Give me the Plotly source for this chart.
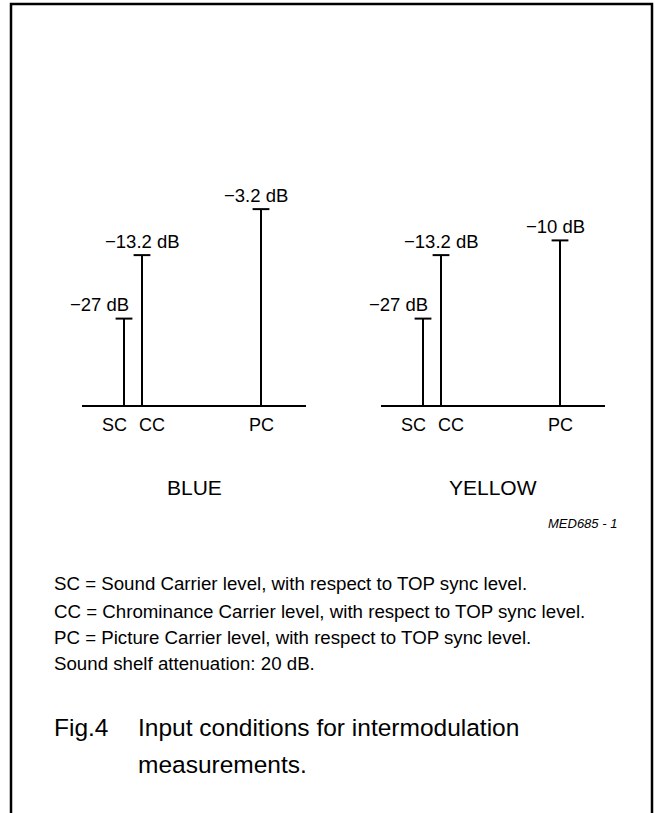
import plotly.graph_objects as go

# ---------------- data ----------------
carriers = ["SC", "CC", "PC"]
blue_db = [-27, -13.2, -3.2]
yellow_db = [-27, -13.2, -10]
group_names = ["BLUE", "YELLOW"]
footnotes = [
    "SC = Sound Carrier level, with respect to TOP sync level.",
    "CC = Chrominance Carrier level, with respect to TOP sync level.",
    "PC = Picture Carrier level, with respect to TOP sync level.",
    "Sound shelf attenuation: 20 dB.",
]
fig_label = "Fig.4"
caption_lines = ["Input conditions for intermodulation", "measurements."]
drawing_code = "MED685 - 1"

# ---------------- layout constants ----------------
W, H = 655, 813
FONT = "Arial, Liberation Sans, Helvetica, sans-serif"
group_origin = [82, 381]          # left end of each baseline (px)
baseline_len = 224
carrier_off = [42, 60, 179]       # stem offsets from baseline start
name_off = [32, 70, 179]          # carrier-name offsets
floor_db = -46.0                  # level of the baseline
px_per_db = 4.6
baseline_px = 406

y_top = floor_db + baseline_px / px_per_db
y_bot = floor_db - (H - baseline_px) / px_per_db

fig = go.Figure()
annotations = []
black = "#000000"

for gi, (gname, vals) in enumerate(zip(group_names, [blue_db, yellow_db])):
    o = group_origin[gi]
    # baseline
    fig.add_trace(go.Scatter(x=[o, o + baseline_len], y=[floor_db, floor_db],
                             mode="lines", line=dict(color=black, width=2),
                             hoverinfo="skip", showlegend=False))
    xs, ys = [], []
    for ci, v in enumerate(vals):
        x = o + carrier_off[ci]
        xs += [x, x, None]
        ys += [floor_db, v, None]
    fig.add_trace(go.Scatter(x=xs, y=ys, mode="lines",
                             line=dict(color=black, width=2),
                             hoverinfo="skip", showlegend=False))
    fig.add_trace(go.Scatter(x=[o + c for c in carrier_off], y=vals, mode="markers",
                             marker=dict(symbol="line-ew", size=12,
                                         line=dict(color=black, width=2)),
                             hoverinfo="skip", showlegend=False))
    for ci, v in enumerate(vals):
        txt = ("\u2212" if v < 0 else "") + f"{abs(v):g} dB"
        if ci == 0:
            xa, xs_ = "right", 7
        elif ci == 1:
            xa, xs_ = "center", 0
        else:
            xa, xs_ = "center", -5
        annotations.append(dict(x=o + carrier_off[ci], y=v, xref="x", yref="y",
                                text=txt, showarrow=False, xanchor=xa, xshift=xs_,
                                yanchor="middle", yshift=14,
                                font=dict(family=FONT, size=18.5, color=black)))
        annotations.append(dict(x=o + name_off[ci], y=floor_db, xref="x", yref="y",
                                text=carriers[ci], showarrow=False, xanchor="center",
                                yanchor="middle", yshift=-19,
                                font=dict(family=FONT, size=18, color=black)))
    annotations.append(dict(x=o + baseline_len / 2, y=487, xref="x", yref="y2",
                            text=gname, showarrow=False, xanchor="center",
                            yanchor="middle",
                            font=dict(family=FONT, size=21, color=black)))

annotations.append(dict(x=619, y=523, xref="x", yref="y2", text=f"<i>{drawing_code}</i>",
                        showarrow=False, xanchor="right", yanchor="middle",
                        font=dict(family=FONT, size=13, color=black)))

for i, line in enumerate(footnotes):
    annotations.append(dict(x=52, y=[583, 611, 637, 663][i], xref="x", yref="y2",
                            text=line, showarrow=False, xanchor="left", yanchor="middle",
                            font=dict(family=FONT, size=18.7, color=black)))

annotations.append(dict(x=52, y=727, xref="x", yref="y2", text=fig_label,
                        showarrow=False, xanchor="left", yanchor="middle",
                        font=dict(family=FONT, size=24.5, color=black)))
for i, line in enumerate(caption_lines):
    annotations.append(dict(x=136, y=[727, 764][i], xref="x", yref="y2", text=line,
                            showarrow=False, xanchor="left", yanchor="middle",
                            font=dict(family=FONT, size=24.5, color=black)))

# invisible trace to activate the pixel-reference axis
fig.add_trace(go.Scatter(x=[0], y=[0], yaxis="y2", mode="markers",
                         marker=dict(opacity=0), hoverinfo="skip", showlegend=False))

fig.update_layout(
    width=W, height=H,
    margin=dict(l=0, r=0, t=0, b=0),
    paper_bgcolor="white", plot_bgcolor="white",
    xaxis=dict(range=[0, W], domain=[0, 1], visible=False, fixedrange=True),
    yaxis=dict(range=[y_bot, y_top], domain=[0, 1], visible=False, fixedrange=True),
    yaxis2=dict(range=[H, 0], overlaying="y", visible=False, fixedrange=True),
    annotations=annotations,
    shapes=[dict(type="path", xref="x", yref="y2",
                 path=f"M 11 {H + 5} L 11 4 L 652 4 L 652 {H + 5}",
                 line=dict(color=black, width=2.5))],
    showlegend=False,
)

fig.write_html("out.html", config={"displayModeBar": False})
